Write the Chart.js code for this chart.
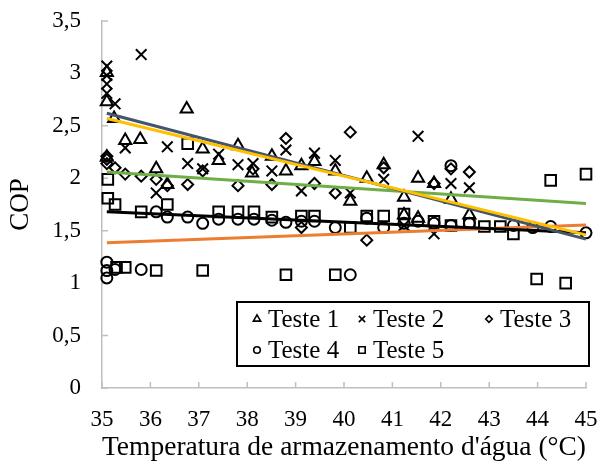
<!DOCTYPE html>
<html><head><meta charset="utf-8">
<script src="https://cdn.jsdelivr.net/npm/chart.js@4.4.1/dist/chart.umd.min.js"></script>
<style>html,body{margin:0;padding:0;background:#fff}canvas{display:block}</style>
</head><body>
<canvas id="c" width="614" height="465"></canvas>
<script>
// ---- data ----
const seriesNames = ['Teste 1', 'Teste 2', 'Teste 3', 'Teste 4', 'Teste 5'];

const t1x = [35.1, 35.1, 35.1, 35.25, 35.48, 35.79, 36.12, 36.35, 36.75, 37.08, 37.41, 37.81, 38.1, 38.51, 38.8, 39.12, 39.39, 39.82, 40.13, 40.47, 40.82, 41.24, 41.24, 41.53, 41.53, 41.86, 42.21, 42.59];
const t1y = [3.01, 2.73, 2.2, 2.57, 2.36, 2.37, 2.09, 1.94, 2.66, 2.28, 2.17, 2.31, 2.05, 2.21, 2.07, 2.12, 2.16, 2.07, 1.78, 2.0, 2.13, 1.82, 1.65, 2.0, 1.62, 1.95, 1.8, 1.65];

const t2x = [35.1, 35.1, 35.1, 35.1, 35.27, 35.48, 35.81, 36.12, 36.35, 36.77, 37.08, 37.41, 37.81, 38.12, 38.51, 38.8, 39.12, 39.39, 39.82, 40.13, 40.82, 41.24, 41.53, 41.86, 42.21, 42.59];
const t2y = [3.07, 2.98, 2.9, 2.81, 2.71, 2.29, 3.18, 1.86, 2.3, 2.14, 2.09, 2.23, 2.13, 2.14, 2.07, 2.27, 1.88, 2.24, 2.17, 1.86, 1.99, 1.55, 2.4, 1.47, 1.95, 1.91];

const t3x = [35.1, 35.1, 35.1, 35.27, 35.48, 35.81, 36.12, 36.35, 36.77, 37.08, 37.81, 38.12, 38.51, 38.8, 39.12, 39.39, 39.82, 40.13, 40.47, 40.82, 41.86, 42.21, 42.59];
const t3y = [2.21, 2.18, 2.14, 2.1, 2.04, 2.02, 1.99, 1.93, 1.94, 2.07, 1.93, 2.09, 1.94, 2.38, 1.53, 1.95, 1.86, 2.44, 1.41, 2.1, 1.95, 2.09, 2.06];

const t4x = [35.1, 35.1, 35.1, 35.27, 35.81, 36.12, 36.35, 36.77, 37.08, 37.41, 37.81, 38.14, 38.51, 38.8, 39.12, 39.39, 39.82, 40.13, 40.47, 40.82, 41.24, 41.53, 41.86, 42.21, 42.21, 42.59, 43.5, 43.9, 44.27, 45.0];
const t4y = [1.2, 1.12, 1.05, 1.13, 1.13, 1.68, 1.63, 1.63, 1.57, 1.61, 1.61, 1.61, 1.6, 1.58, 1.59, 1.59, 1.53, 1.08, 1.62, 1.53, 1.57, 1.59, 1.57, 2.12, 1.55, 1.57, 1.55, 1.53, 1.54, 1.48];

const t5x = [35.12, 35.12, 35.27, 35.3, 35.48, 35.81, 36.12, 36.35, 36.77, 37.08, 37.41, 37.81, 38.14, 38.51, 38.8, 39.12, 39.39, 39.82, 40.13, 40.47, 40.82, 41.24, 41.86, 42.21, 42.59, 42.9, 43.23, 43.5, 43.98, 44.27, 44.58, 45.0];
const t5y = [1.99, 1.81, 1.75, 1.15, 1.15, 1.68, 1.12, 1.75, 2.33, 1.12, 1.68, 1.68, 1.68, 1.63, 1.08, 1.64, 1.64, 1.08, 1.53, 1.64, 1.64, 1.66, 1.59, 1.55, 1.57, 1.54, 1.54, 1.47, 1.04, 1.98, 1.0, 2.04];

// trend lines (end values)
const trendX = [35.1, 45];
const trend1 = [2.57, 1.46];
const trend2 = [2.62, 1.42];
const trend3 = [2.06, 1.76];
const trend4 = [1.68, 1.48];
const trend5 = [1.385, 1.555];

const xTicks = [35, 36, 37, 38, 39, 40, 41, 42, 43, 44, 45];
const yTicks = [0, 0.5, 1, 1.5, 2, 2.5, 3, 3.5];

const xTitle = "Temperatura de armazenamento d'água (°C)";
const yTitle = 'COP';

// ---- building ----
const FONT = "'Liberation Serif', 'Times New Roman', serif";
const pts = (xs, ys) => xs.map((x, i) => ({ x: x, y: ys[i] }));

const styles = [
  { pointStyle: 'triangle', pointRadius: 7 },
  { pointStyle: 'crossRot', pointRadius: 7.5 },
  { pointStyle: 'rectRot', pointRadius: 5.5 },
  { pointStyle: 'circle', pointRadius: 5.5 },
  { pointStyle: 'rect', pointRadius: 7.5 }
];
const seriesX = [t1x, t2x, t3x, t4x, t5x];
const seriesY = [t1y, t2y, t3y, t4y, t5y];

const scatterSets = seriesNames.map((name, i) => ({
  type: 'scatter',
  label: name,
  data: pts(seriesX[i], seriesY[i]),
  pointStyle: styles[i].pointStyle,
  pointRadius: styles[i].pointRadius,
  pointHoverRadius: styles[i].pointRadius,
  pointBorderWidth: 2,
  borderColor: '#000',
  backgroundColor: 'rgba(0,0,0,0)',
  order: 2,
  clip: false
}));

const trendDefs = [
  { v: trend1, c: '#FFC000' },
  { v: trend2, c: '#44546A' },
  { v: trend3, c: '#70AD47' },
  { v: trend4, c: '#000000' },
  { v: trend5, c: '#ED7D31' }
];
const trendSets = trendDefs.map((t, i) => ({
  type: 'line',
  label: 'trend' + (i + 1),
  data: pts(trendX, t.v),
  borderColor: t.c,
  borderWidth: 3,
  pointRadius: 0,
  fill: false,
  order: 1,
  clip: false
}));

const fmt = v => String(v).replace('.', ',');

const innerTicks = {
  id: 'innerTicks',
  beforeDatasetsDraw(chart) {
    const { ctx, chartArea: a, scales: { x, y } } = chart;
    ctx.save();
    ctx.strokeStyle = '#BFBFBF';
    ctx.lineWidth = 1.5;
    ctx.beginPath();
    y.ticks.forEach(t => { const py = y.getPixelForValue(t.value); ctx.moveTo(a.left, py); ctx.lineTo(a.left + 6, py); });
    x.ticks.forEach(t => { const px = x.getPixelForValue(t.value); ctx.moveTo(px, a.bottom); ctx.lineTo(px, a.bottom - 6); });
    ctx.stroke();
    ctx.restore();
  }
};

function drawMarker(ctx, style, r, x, y) {
  const H = Chart.helpers;
  ctx.strokeStyle = '#000';
  ctx.fillStyle = 'rgba(0,0,0,0)';
  ctx.lineWidth = 1.6;
  if (H && H.drawPoint) {
    H.drawPoint(ctx, { pointStyle: style, radius: r, rotation: 0, borderWidth: 1.6 }, x, y);
  }
}

const boxLegend = {
  id: 'boxLegend',
  afterDraw(chart) {
    const { ctx, chartArea: a } = chart;
    const left = a.right - 349, right = a.right + 3, top = a.bottom - 86, bottom = a.bottom - 22;
    ctx.save();
    ctx.fillStyle = '#fff';
    ctx.fillRect(left, top, right - left, bottom - top);
    ctx.strokeStyle = '#000';
    ctx.lineWidth = 2;
    ctx.strokeRect(left, top, right - left, bottom - top);
    const colMarker = [left + 20, left + 125, left + 252];
    const rows = [top + 17, top + 48];
    ctx.font = '25px ' + FONT;
    ctx.textBaseline = 'middle';
    ctx.textAlign = 'left';
    seriesNames.forEach((name, i) => {
      const row = i < 3 ? 0 : 1;
      const col = i < 3 ? i : i - 3;
      const mx = colMarker[col], my = rows[row];
      drawMarker(ctx, styles[i].pointStyle, styles[i].pointRadius * 0.6, mx, my);
      ctx.fillStyle = '#000';
      ctx.fillText(name, mx + 11, my + 1);
    });
    ctx.restore();
  }
};

new Chart(document.getElementById('c'), {
  data: { datasets: [...scatterSets, ...trendSets] },
  options: {
    responsive: false,
    animation: false,
    events: [],
    layout: { padding: { left: 0, right: 28, top: 21, bottom: 0 } },
    plugins: { legend: { display: false }, tooltip: { enabled: false } },
    scales: {
      x: {
        type: 'linear', min: 35, max: 45,
        afterBuildTicks: s => { s.ticks = xTicks.map(v => ({ value: v })); },
        afterFit: s => { s.height = 77; },
        ticks: { callback: fmt, color: '#000', font: { family: FONT, size: 23 }, padding: 5, maxRotation: 0, autoSkip: false },
        grid: { display: false, drawTicks: true, tickLength: 13 },
        border: { display: true, color: '#BFBFBF', width: 1.5 },
        title: { display: true, text: xTitle, color: '#000', font: { family: FONT, size: 28 }, padding: { top: 0, bottom: 1 } }
      },
      y: {
        type: 'linear', min: 0, max: 3.5,
        afterBuildTicks: s => { s.ticks = yTicks.map(v => ({ value: v })); },
        afterFit: s => { s.width = 102; },
        ticks: { callback: fmt, color: '#000', font: { family: FONT, size: 23 }, padding: 3, autoSkip: false },
        grid: { display: false, drawTicks: true, tickLength: 18 },
        border: { display: true, color: '#BFBFBF', width: 1.5 },
        title: { display: true, text: yTitle, color: '#000', font: { family: FONT, size: 27 }, padding: { top: 5, bottom: 0 } }
      }
    }
  },
  plugins: [innerTicks, boxLegend]
});
</script>
</body></html>
